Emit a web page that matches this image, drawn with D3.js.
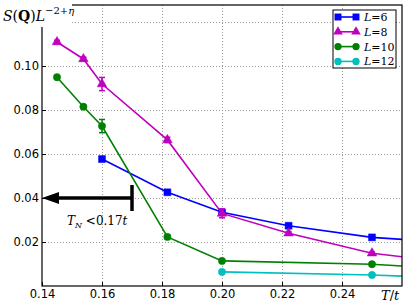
<!DOCTYPE html>
<html>
<head>
<meta charset="utf-8">
<script src="https://cdn.jsdelivr.net/npm/d3@7"></script>
<style>
  body { margin: 0; background: #fff; }
  svg { display: block; }
</style>
</head>
<body>
<script>
// Structure factor vs temperature, one series per lattice size

// temperatures (T/t); the last point lies beyond the axis and gets clipped
var temps6 = [0.16, 0.1818, 0.20, 0.2222, 0.25, 0.2857];
var vals6 = [0.0577, 0.0426, 0.0335, 0.0274, 0.0221, 0.0189];
var err6 = [0.0007, 0.0006, 0.0012, 0.0005, 0.0004, 0.0004];

var temps8 = [0.145, 0.1538, 0.16, 0.1818, 0.20, 0.2222, 0.25, 0.2857];
var vals8 = [0.1109, 0.1032, 0.0918, 0.0664, 0.0330, 0.0240, 0.0149, 0.0092];
var err8 = [0.0008, 0.0008, 0.0030, 0.0012, 0.0020, 0.0006, 0.0005, 0.0005];

var temps10 = [0.145, 0.1538, 0.16, 0.1818, 0.20, 0.25, 0.2857];
var vals10 = [0.0949, 0.0815, 0.0727, 0.0223, 0.0114, 0.0099, 0.0070];
var err10 = [0.0006, 0.0006, 0.0030, 0.0008, 0.0005, 0.0004, 0.0004];

var temps12 = [0.20, 0.25, 0.2857];
var vals12 = [0.0064, 0.0050, 0.0032];
var err12 = [0.0004, 0.0004, 0.0004];

var xTicks = [0.14, 0.16, 0.18, 0.20, 0.22, 0.24];
var yTicks = [0.02, 0.04, 0.06, 0.08, 0.10];
var yGrid = [0.02, 0.04, 0.06, 0.08, 0.10, 0.12];

window.onload = function(){

    var w = 407, h = 307;
    var left = 42, right = 402, top = 5, bottom = 286;

    var svg = d3.select("body").append("svg")
      .attr("width", w)
      .attr("height", h);

    var x = d3.scaleLinear().domain([0.14, 0.26]).range([left, right]);
    var y = d3.scaleLinear().domain([0, 0.12773]).range([bottom, top]);

    svg.append("clipPath").attr("id", "clip")
      .append("rect")
      .attr("x", left).attr("y", top)
      .attr("width", right - left).attr("height", bottom - top);

    // dotted grid
    svg.append("g").selectAll("line.vg")
      .data(xTicks.slice(1))
      .enter().append("line")
      .attr("x1", function(d){ return Math.round(x(d)) + 0.5; })
      .attr("x2", function(d){ return Math.round(x(d)) + 0.5; })
      .attr("y1", top).attr("y2", bottom)
      .style("stroke", "#999").style("stroke-width", 1)
      .style("stroke-dasharray", "1,2");
    svg.append("g").selectAll("line.hg")
      .data(yGrid)
      .enter().append("line")
      .attr("x1", left).attr("x2", right)
      .attr("y1", function(d){ return Math.round(y(d)) + 0.5; })
      .attr("y2", function(d){ return Math.round(y(d)) + 0.5; })
      .style("stroke", "#999").style("stroke-width", 1)
      .style("stroke-dasharray", "1,2");

    var series = [
      {name: "6", t: temps6, v: vals6, e: err6, color: "#0000ff", shape: d3.symbolSquare, size: 48},
      {name: "8", t: temps8, v: vals8, e: err8, color: "#bf00bf", shape: d3.symbolTriangle, size: 40},
      {name: "10", t: temps10, v: vals10, e: err10, color: "#008000", shape: d3.symbolCircle, size: 42},
      {name: "12", t: temps12, v: vals12, e: err12, color: "#00bfbf", shape: d3.symbolCircle, size: 42}
    ];

    var plot = svg.append("g").attr("clip-path", "url(#clip)");

    var line = d3.line()
      .x(function(d){ return x(d[0]); })
      .y(function(d){ return y(d[1]); });

    series.forEach(function(s){
      var pts = s.t.map(function(t, i){ return [t, s.v[i], s.e[i]]; });
      plot.append("path")
        .datum(pts)
        .attr("d", line)
        .style("fill", "none")
        .style("stroke", s.color)
        .style("stroke-width", 1.6);

      // error bars with caps
      var eb = plot.append("g").selectAll("g").data(pts).enter().append("g")
        .style("stroke", s.color).style("stroke-width", 1.5);
      eb.append("line")
        .attr("x1", function(d){ return x(d[0]); })
        .attr("x2", function(d){ return x(d[0]); })
        .attr("y1", function(d){ return y(d[1] - d[2]); })
        .attr("y2", function(d){ return y(d[1] + d[2]); });
      [-1, 1].forEach(function(sg){
        eb.append("line")
          .attr("x1", function(d){ return x(d[0]) - 3; })
          .attr("x2", function(d){ return x(d[0]) + 3; })
          .attr("y1", function(d){ return y(d[1] + sg * d[2]); })
          .attr("y2", function(d){ return y(d[1] + sg * d[2]); });
      });

      plot.append("g").selectAll("path").data(pts).enter().append("path")
        .attr("d", d3.symbol().type(s.shape).size(s.size))
        .attr("transform", function(d){ return "translate(" + x(d[0]) + "," + y(d[1]) + ")"; })
        .style("fill", s.color)
        .style("stroke", s.color).style("stroke-width", 0.5);
    });

    // arrow marking T_N < 0.17t
    var arrowY = y(0.04);
    svg.append("line")
      .attr("x1", x(0.17)).attr("x2", x(0.145))
      .attr("y1", arrowY).attr("y2", arrowY)
      .style("stroke", "#000").style("stroke-width", 3.5);
    svg.append("line")
      .attr("x1", x(0.17)).attr("x2", x(0.17))
      .attr("y1", arrowY - 13).attr("y2", arrowY + 13)
      .style("stroke", "#000").style("stroke-width", 3.5);
    svg.append("path")
      .attr("d", "M" + x(0.14) + "," + arrowY +
                 "L" + (x(0.14) + 17) + "," + (arrowY - 6) +
                 "L" + (x(0.14) + 17) + "," + (arrowY + 6) + "Z")
      .style("fill", "#000");

    var tn = svg.append("text")
      .attr("x", 67).attr("y", 225)
      .style("font-family", "DejaVu Serif").style("font-size", "12px");
    tn.append("tspan").style("font-style", "italic").text("T");
    tn.append("tspan").attr("dy", 3).style("font-size", "8px").style("font-style", "italic").text("N");
    tn.append("tspan").attr("dy", -3).text(" <0.17");
    tn.append("tspan").style("font-style", "italic").text("t");

    // axes frame with inward ticks
    var xAxis = d3.axisBottom(x).tickValues(xTicks).tickSize(-4).tickPadding(4)
      .tickFormat(d3.format(".2f"));
    var gx = svg.append("g").attr("transform", "translate(0," + bottom + ")").call(xAxis);
    var yAxis = d3.axisLeft(y).tickValues(yTicks).tickSize(-4).tickPadding(3)
      .tickFormat(d3.format(".2f"));
    var gy = svg.append("g").attr("transform", "translate(" + left + ",0)").call(yAxis);
    [gx, gy].forEach(function(g){
      g.select(".domain").remove();
      g.selectAll("text").style("font-family", "DejaVu Sans").style("font-size", "11.5px").style("fill", "#000");
      g.selectAll("line").style("stroke", "#000");
    });

    svg.append("rect")
      .attr("x", left).attr("y", top)
      .attr("width", right - left).attr("height", bottom - top)
      .style("fill", "none").style("stroke", "#000").style("stroke-width", 1.2);

    // y label with white box
    svg.append("rect").attr("x", 0).attr("y", 3).attr("width", 72).attr("height", 24).style("fill", "#fff");
    var yl = svg.append("text").attr("x", 3).attr("y", 21)
      .style("font-family", "DejaVu Serif").style("font-size", "14px");
    yl.append("tspan").style("font-style", "italic").text("S");
    yl.append("tspan").text("(");
    yl.append("tspan").style("font-weight", "bold").text("Q");
    yl.append("tspan").text(")");
    yl.append("tspan").style("font-style", "italic").text("L");
    yl.append("tspan").attr("dy", -7).style("font-size", "10px").text("\u22122+");
    yl.append("tspan").style("font-size", "10px").style("font-style", "italic").text("\u03b7");

    var xl = svg.append("text").attr("x", 381).attr("y", 300)
      .style("font-family", "DejaVu Serif").style("font-size", "13px").style("font-style", "italic");
    xl.append("tspan").text("T");
    xl.append("tspan").style("font-style", "normal").text("/");
    xl.append("tspan").text("t");

    // legend
    var lg = svg.append("g");
    lg.append("rect").attr("x", 333).attr("y", 10).attr("width", 63).attr("height", 58)
      .style("fill", "#fff").style("stroke", "#000").style("stroke-width", 1);
    var item = lg.selectAll("g.item").data(series).enter().append("g")
      .attr("transform", function(d, i){ return "translate(0," + (17 + i * 14.8) + ")"; });
    item.append("line").attr("x1", 338).attr("x2", 356)
      .style("stroke", function(d){ return d.color; }).style("stroke-width", 1.6);
    [338, 356].forEach(function(px){
      item.append("path")
        .attr("d", function(d){ return d3.symbol().type(d.shape).size(d.size)(); })
        .attr("transform", "translate(" + px + ",0)")
        .style("fill", function(d){ return d.color; });
    });
    var lt = item.append("text").attr("x", 364).attr("y", 4)
      .style("font-family", "DejaVu Serif").style("font-size", "11px");
    lt.append("tspan").style("font-style", "italic").text("L");
    lt.append("tspan").text(function(d){ return "=" + d.name; });
};
</script>
</body>
</html>
